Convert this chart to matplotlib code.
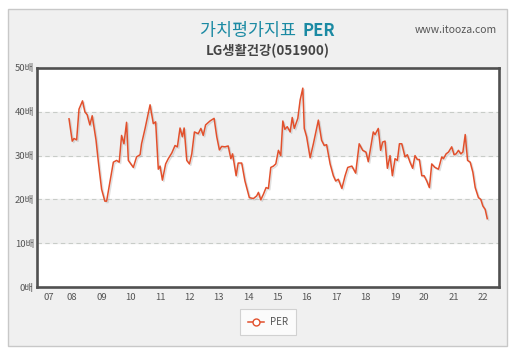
import matplotlib
matplotlib.use('Agg')
import matplotlib.pyplot as plt
import matplotlib.patheffects as pe
from matplotlib.patches import Rectangle
from matplotlib.lines import Line2D

plt.rcParams['font.family'] = ['Noto Sans CJK KR', 'DejaVu Sans']

# PER series (decimal year, multiple)
years = [2007.90, 2008.01, 2008.07, 2008.16, 2008.24, 2008.36, 2008.44, 2008.52, 2008.61, 2008.69,
         2008.82, 2008.90, 2009.01, 2009.12, 2009.18, 2009.29, 2009.41, 2009.52, 2009.61, 2009.69,
         2009.77, 2009.86, 2009.92, 2010.09, 2010.20, 2010.32, 2010.37, 2010.49, 2010.66, 2010.77,
         2010.85, 2010.94, 2011.00, 2011.08, 2011.19, 2011.28, 2011.40, 2011.51, 2011.59, 2011.68,
         2011.76, 2011.82, 2011.91, 2012.00, 2012.08, 2012.17, 2012.30, 2012.39, 2012.47, 2012.55,
         2012.70, 2012.84, 2012.93, 2013.02, 2013.10, 2013.21, 2013.32, 2013.41, 2013.47, 2013.59,
         2013.66, 2013.78, 2013.89, 2014.04, 2014.18, 2014.29, 2014.35, 2014.43, 2014.52, 2014.61,
         2014.69, 2014.77, 2014.86, 2014.94, 2015.03, 2015.11, 2015.18, 2015.25, 2015.33, 2015.43,
         2015.50, 2015.57, 2015.69, 2015.77, 2015.86, 2015.91, 2015.99, 2016.11, 2016.22, 2016.39,
         2016.50, 2016.59, 2016.67, 2016.79, 2016.90, 2016.98, 2017.07, 2017.19, 2017.30, 2017.39,
         2017.53, 2017.66, 2017.78, 2017.90, 2018.01, 2018.09, 2018.26, 2018.32, 2018.43, 2018.51,
         2018.58, 2018.66, 2018.74, 2018.83, 2018.91, 2019.00, 2019.08, 2019.15, 2019.23, 2019.34,
         2019.42, 2019.51, 2019.60, 2019.68, 2019.76, 2019.83, 2019.91, 2019.99, 2020.08, 2020.17,
         2020.25, 2020.36, 2020.48, 2020.59, 2020.65, 2020.74, 2020.82, 2020.93, 2021.01, 2021.08,
         2021.16, 2021.24, 2021.31, 2021.39, 2021.47, 2021.56, 2021.65, 2021.73, 2021.84, 2021.92,
         2021.99, 2022.07, 2022.14]
per = [38.4, 33.3, 33.9, 33.6, 40.6, 42.5, 40.0, 39.3, 37.0, 39.1,
       33.5, 28.5, 22.3, 19.6, 19.6, 23.9, 28.5, 28.9, 28.5, 34.6,
       32.7, 37.6, 28.9, 27.3, 29.7, 30.2, 32.7, 36.2, 41.6, 37.3,
       37.7, 26.9, 27.6, 24.4, 28.1, 29.3, 30.6, 32.3, 32.0, 36.3,
       34.3, 36.3, 28.9, 28.1, 30.4, 35.4, 35.0, 36.2, 34.6, 37.0,
       37.9, 38.5, 34.3, 31.3, 32.1, 32.0, 32.2, 29.3, 30.4, 25.4,
       28.3, 28.3, 24.2, 20.4, 20.2, 20.8, 21.6, 19.9, 21.2, 22.7,
       22.5, 27.3, 27.6, 28.1, 31.2, 30.0, 37.9, 36.0, 36.6, 35.4,
       38.7, 36.2, 38.5, 42.7, 45.4, 36.2, 34.3, 29.5, 32.7, 38.1,
       33.5, 32.3, 32.5, 28.1, 25.4, 24.2, 24.6, 22.5, 25.4, 27.3,
       27.6, 26.0, 32.7, 31.2, 30.8, 28.6, 35.4, 34.8, 36.2, 31.2,
       33.1, 33.3, 27.1, 30.0, 25.4, 29.3, 28.9, 32.7, 32.7, 29.7,
       30.2, 28.5, 27.1, 30.0, 29.1, 29.1, 25.4, 25.4, 24.2, 22.7,
       28.1, 27.3, 26.9, 29.7, 29.3, 30.4, 30.8, 32.0, 30.2, 30.4,
       31.2, 30.4, 30.8, 34.8, 28.9, 28.5, 26.2, 22.7, 20.4, 20.0,
       18.5, 17.7, 15.6]

tick_pos = [2007.2, 2008, 2009, 2010, 2011, 2012, 2013, 2014, 2015, 2016, 2017, 2018, 2019, 2020, 2021, 2022]
tick_labels = ['07', '08', '09', '10', '11', '12', '13', '14', '15', '16', '17', '18', '19', '20', '21', '22']
y_ticks = [0, 10, 20, 30, 40, 50]
y_labels = ['0배', '10배', '20배', '30배', '40배', '50배']

W, H = 515, 357
fig = plt.figure(figsize=(W / 100, H / 100), dpi=100)
fig.patch.set_facecolor('white')

# grey panel behind everything
panel = Rectangle((8 / W, 1 - 346 / H), 499 / W, 337 / H, transform=fig.transFigure,
                  facecolor='#f0f0f0', edgecolor='#c8c8c8', linewidth=1, zorder=-5)
fig.patches.append(panel)

ax = fig.add_axes([37 / W, 1 - 287 / H, 462 / W, 219 / H])
ax.set_zorder(2)
ax.set_facecolor('white')
ax.set_xlim(2006.81, 2022.54)
ax.set_ylim(0, 50)

# alternating bands
for lo in (10, 30):
    ax.axhspan(lo, lo + 10, color='#f0f0f0', zorder=0)
for yv in (10, 20, 30, 40):
    ax.axhline(yv, color='#c8ccc8', linestyle=(0, (4, 3)), linewidth=0.8, zorder=1)

ax.plot(years, per, color='#e2502c', linewidth=1.1, zorder=3,
        path_effects=[pe.SimpleLineShadow(offset=(1, -1), shadow_color='#999999', alpha=0.3),
                      pe.Normal()])

for s in ax.spines.values():
    s.set_color('#505050')
    s.set_linewidth(1.9)

ax.set_xticks(tick_pos)
ax.set_xticklabels(tick_labels)
ax.set_yticks(y_ticks)
ax.set_yticklabels(y_labels)
ax.tick_params(axis='both', length=0, labelsize=6.8, labelcolor='#555555')
ax.tick_params(axis='x', pad=4)
ax.tick_params(axis='y', pad=2.2)

# titles
fig.text(300 / W, 1 - 31 / H, '가치평가지표 ', ha='right', va='center', fontsize=12.5, color='#1b8aa3')
fig.text(303 / W, 1 - 31 / H, 'PER', ha='left', va='center', fontsize=12, color='#1b8aa3',
         fontweight='bold')
fig.text(268 / W, 1 - 51 / H, 'LG생활건강(051900)', ha='center', va='center', fontsize=9.6,
         color='#444444', fontweight='bold')
fig.text(497 / W, 1 - 30 / H, 'www.itooza.com', ha='right', va='center', fontsize=7.5, color='#555555')

handle = Line2D([], [], color='#e2502c', linewidth=1.1, marker='o', markersize=5,
                markerfacecolor='white', markeredgecolor='#e2502c')
leg = fig.legend([handle], ['PER'], loc='center', bbox_to_anchor=(268 / W, 1 - 322 / H),
                 fontsize=7, frameon=True, fancybox=False, handlelength=1.6, handletextpad=0.6,
                 borderpad=0.8)
leg.get_frame().set_edgecolor('#c8c8c8')
leg.get_frame().set_facecolor('white')
leg.get_frame().set_linewidth(0.8)
for t in leg.get_texts():
    t.set_color('#555555')

fig.savefig('out.png', dpi=100)
